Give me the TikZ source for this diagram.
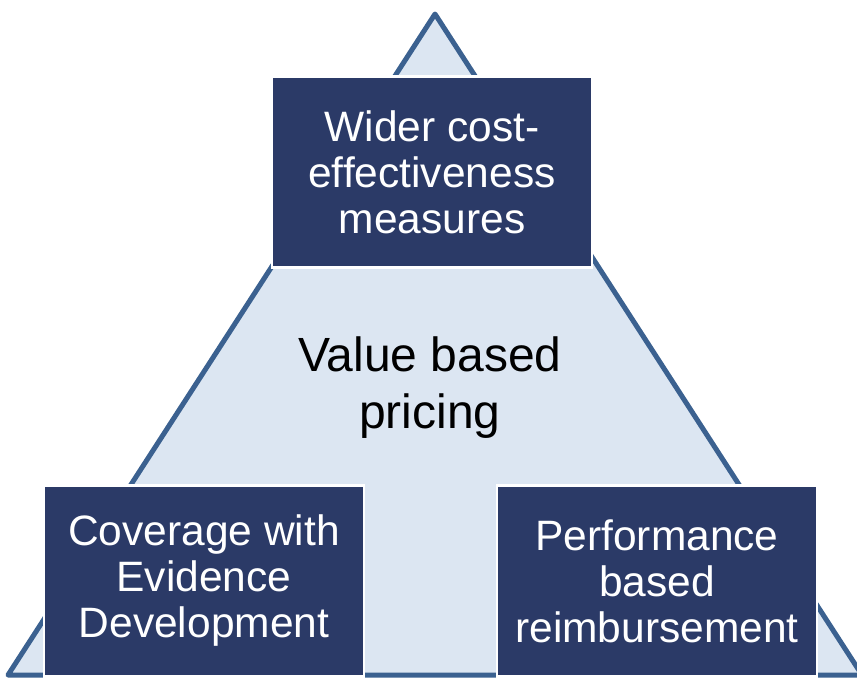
\documentclass[tikz,border=0pt]{standalone}
\usepackage{fontspec}
\setmainfont{Liberation Sans}
\definecolor{navy}{HTML}{2B3A67}
\definecolor{edgeblue}{HTML}{3B6190}
\definecolor{paleblue}{HTML}{DCE6F2}

\begin{document}
\begin{tikzpicture}[x=1pt, y=-1pt,
	box/.style = {draw=white, line width=2.5pt, fill=navy, text=white,
		minimum width=320pt, minimum height=191pt, align=center,
		font=\fontsize{42.5}{46}\selectfont, inner sep=0pt},
	centre/.style = {align=center, font=\fontsize{48}{57}\selectfont}]
	\useasboundingbox (0,0) rectangle (857,678);
	\draw [line width = 5pt, color = edgeblue, fill = paleblue, line join = round]
		(435,14) -- (862,675) -- (8,675) -- cycle;
	\node [box] (wider) at (432,172) {Wider cost-\\effectiveness\\measures};
	\node [box] (coverage) at (204,581) {Coverage with\\Evidence\\Development};
	\node [box] (performance) at (657,581) {Performance\\based\\reimbursement};
	\node [centre] (value) at (430,388) {Value based\\pricing};
\end{tikzpicture}
\end{document}
